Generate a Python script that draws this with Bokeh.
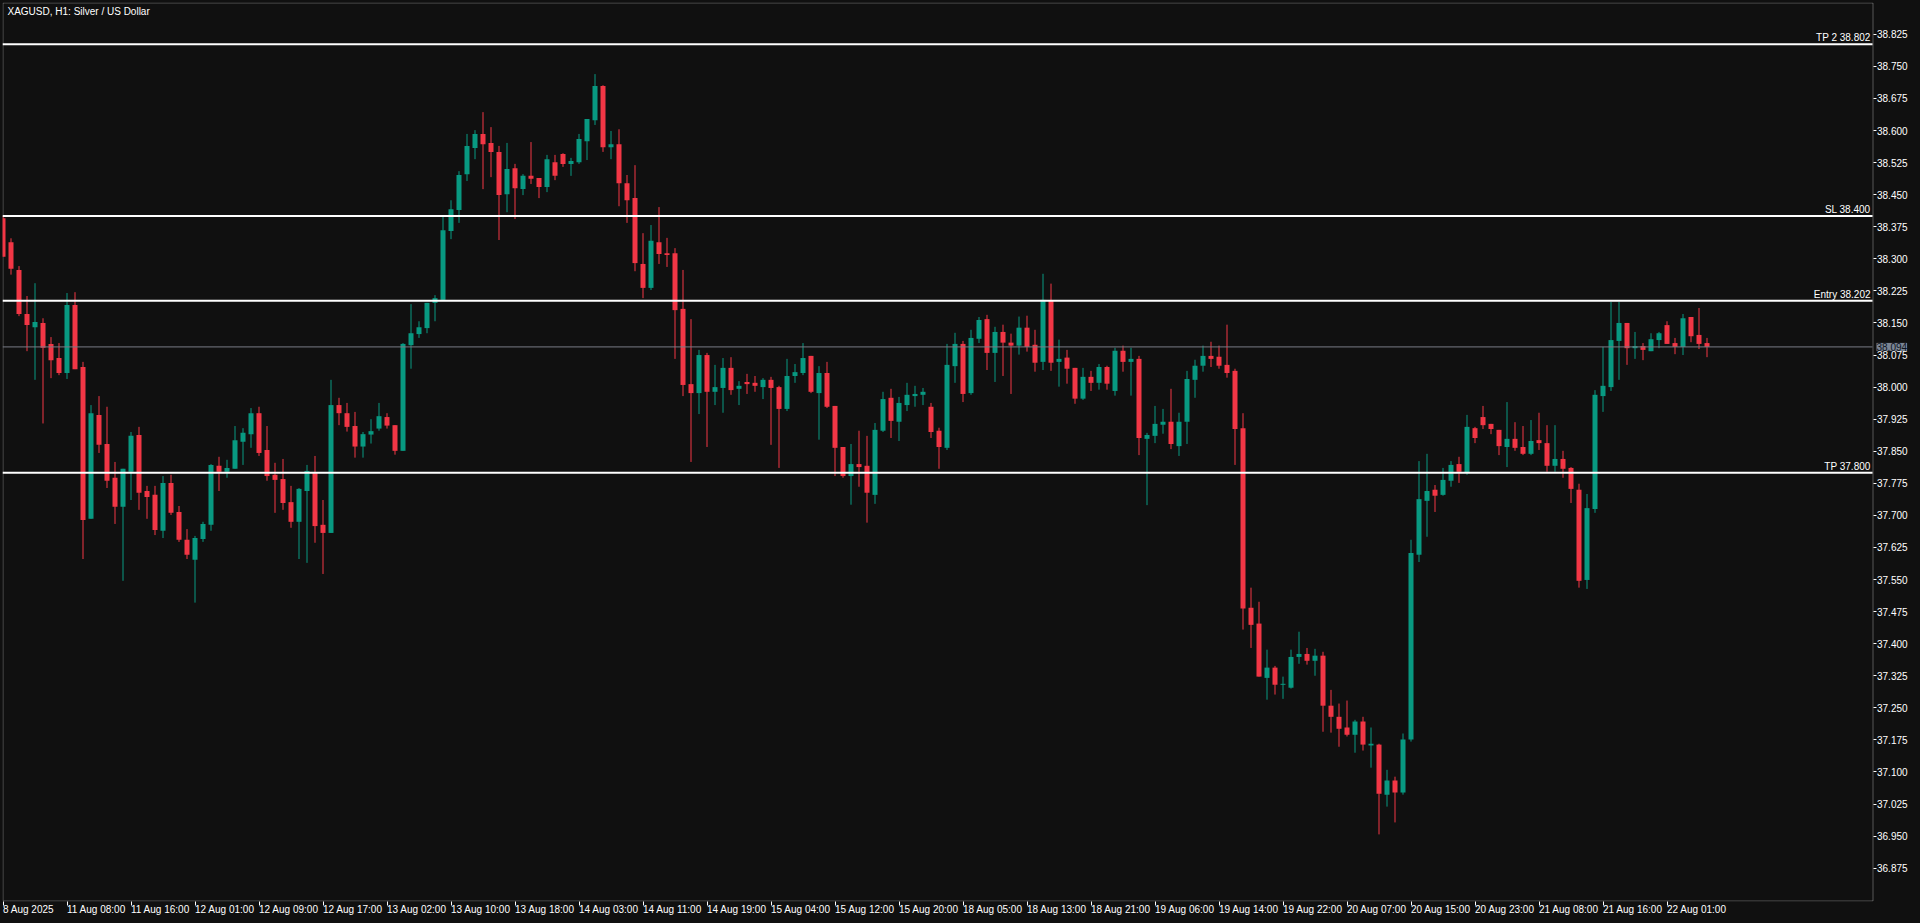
from bokeh.plotting import figure
from bokeh.models import (ColumnDataSource, Range1d, FixedTicker, Label, BoxAnnotation,
                          NumeralTickFormatter)
from bokeh.embed import file_html
from bokeh.resources import INLINE

# ---------------- data (H1 bars, 8 Aug 23:00 .. 22 Aug 06:00) ----------------
opens = [38.395, 38.339, 38.274, 38.171, 38.140, 38.150, 38.101, 38.068, 38.033, 38.192,
         38.047, 37.692, 37.935, 37.867, 37.788, 37.720, 37.802, 37.888, 37.757, 37.748,
         37.664, 37.776, 37.708, 37.643, 37.596, 37.645, 37.678, 37.816, 37.802, 37.809,
         37.872, 37.890, 37.939, 37.853, 37.795, 37.785, 37.731, 37.685, 37.757, 37.799,
         37.678, 37.659, 37.958, 37.939, 37.909, 37.861, 37.889, 37.903, 37.930, 37.911,
         37.851, 38.098, 38.124, 38.138, 38.197, 38.204, 38.365, 38.414, 38.498, 38.559,
         38.592, 38.571, 38.550, 38.451, 38.512, 38.463, 38.494, 38.489, 38.468, 38.526,
         38.545, 38.522, 38.526, 38.575, 38.624, 38.704, 38.561, 38.568, 38.477, 38.442,
         38.288, 38.232, 38.339, 38.313, 38.313, 38.183, 38.007, 37.986, 38.075, 37.989,
         37.998, 38.045, 37.996, 38.012, 38.010, 38.000, 38.017, 38.000, 37.949, 38.026,
         38.033, 38.073, 37.986, 38.033, 37.956, 37.860, 37.792, 37.820, 37.816, 37.748,
         37.898, 37.975, 37.919, 37.958, 37.979, 37.982, 37.954, 37.898, 37.858, 38.049,
         38.101, 37.986, 38.113, 38.159, 38.080, 38.129, 38.104, 38.097, 38.139, 38.099,
         38.059, 38.202, 38.059, 38.069, 38.045, 37.973, 38.024, 38.010, 38.047, 37.991,
         38.085, 38.059, 38.066, 37.879, 37.886, 37.912, 37.919, 37.862, 37.919, 38.017,
         38.050, 38.073, 38.071, 38.052, 38.038, 37.904, 37.484, 37.447, 37.320, 37.344,
         37.304, 37.297, 37.369, 37.376, 37.360, 37.372, 37.255, 37.229, 37.204, 37.187,
         37.218, 37.162, 37.164, 37.047, 37.080, 37.052, 37.176, 37.608, 37.734, 37.760,
         37.748, 37.781, 37.820, 37.799, 37.904, 37.930, 37.914, 37.900, 37.860, 37.879,
         37.860, 37.844, 37.876, 37.869, 37.816, 37.832, 37.811, 37.760, 37.549, 37.715,
         37.979, 38.000, 38.108, 38.150, 38.091, 38.096, 38.084, 38.110, 38.145, 38.103,
         38.094, 38.164, 38.122, 38.103]
highs = [38.400, 38.348, 38.283, 38.213, 38.243, 38.161, 38.117, 38.103, 38.220, 38.222,
         38.059, 37.958, 37.979, 37.954, 37.825, 37.809, 37.895, 37.907, 37.769, 37.769,
         37.792, 37.795, 37.722, 37.668, 37.652, 37.685, 37.820, 37.837, 37.830, 37.909,
         37.904, 37.951, 37.954, 37.909, 37.823, 37.832, 37.769, 37.764, 37.818, 37.839,
         37.736, 38.017, 37.975, 37.963, 37.942, 37.895, 37.925, 37.963, 37.939, 37.911,
         38.103, 38.194, 38.154, 38.197, 38.215, 38.398, 38.437, 38.505, 38.592, 38.601,
         38.643, 38.608, 38.564, 38.571, 38.522, 38.498, 38.573, 38.489, 38.543, 38.543,
         38.547, 38.536, 38.592, 38.627, 38.732, 38.706, 38.599, 38.603, 38.496, 38.519,
         38.360, 38.379, 38.421, 38.349, 38.325, 38.274, 38.159, 38.087, 38.080, 38.052,
         38.068, 38.070, 38.014, 38.031, 38.026, 38.021, 38.024, 38.003, 38.066, 38.054,
         38.103, 38.073, 38.049, 38.059, 37.956, 37.860, 37.867, 37.898, 37.886, 37.916,
         37.989, 37.996, 37.977, 38.010, 38.003, 37.998, 37.963, 37.905, 38.101, 38.127,
         38.108, 38.134, 38.164, 38.169, 38.141, 38.146, 38.125, 38.165, 38.167, 38.134,
         38.265, 38.242, 38.111, 38.087, 38.045, 38.045, 38.038, 38.054, 38.050, 38.092,
         38.097, 38.092, 38.073, 37.893, 37.956, 37.949, 37.996, 37.940, 38.038, 38.064,
         38.097, 38.106, 38.097, 38.146, 38.043, 37.939, 37.531, 37.498, 37.386, 37.348,
         37.323, 37.386, 37.428, 37.390, 37.388, 37.381, 37.292, 37.260, 37.267, 37.222,
         37.229, 37.204, 37.166, 37.105, 37.089, 37.190, 37.643, 37.827, 37.844, 37.771,
         37.811, 37.827, 37.837, 37.935, 37.907, 37.956, 37.914, 37.900, 37.965, 37.918,
         37.909, 37.923, 37.940, 37.911, 37.911, 37.851, 37.813, 37.774, 37.750, 37.993,
         38.094, 38.199, 38.199, 38.150, 38.129, 38.103, 38.126, 38.129, 38.154, 38.115,
         38.171, 38.164, 38.185, 38.115]
lows = [38.305, 38.263, 38.166, 38.084, 38.017, 37.915, 38.021, 38.028, 38.019, 38.042,
        37.598, 37.692, 37.846, 37.764, 37.680, 37.547, 37.736, 37.713, 37.692, 37.654,
        37.647, 37.701, 37.638, 37.598, 37.496, 37.638, 37.664, 37.757, 37.788, 37.809,
        37.818, 37.858, 37.839, 37.781, 37.706, 37.713, 37.671, 37.598, 37.589, 37.636,
        37.563, 37.659, 37.911, 37.896, 37.835, 37.835, 37.868, 37.898, 37.903, 37.842,
        37.851, 38.043, 38.115, 38.126, 38.154, 38.204, 38.346, 38.384, 38.482, 38.533,
        38.463, 38.491, 38.344, 38.409, 38.393, 38.449, 38.475, 38.442, 38.456, 38.484,
        38.515, 38.494, 38.522, 38.531, 38.613, 38.550, 38.533, 38.423, 38.384, 38.271,
        38.208, 38.227, 38.288, 38.281, 38.066, 37.979, 37.825, 37.937, 37.860, 37.958,
        37.940, 37.982, 37.958, 37.984, 37.989, 37.972, 37.865, 37.811, 37.944, 38.010,
        38.028, 37.986, 37.877, 37.951, 37.792, 37.788, 37.725, 37.767, 37.683, 37.727,
        37.895, 37.881, 37.874, 37.944, 37.954, 37.958, 37.881, 37.809, 37.853, 38.010,
        37.965, 37.982, 38.103, 38.040, 38.012, 38.026, 37.984, 38.076, 38.083, 38.036,
        38.040, 38.038, 38.001, 38.008, 37.961, 37.970, 37.991, 37.994, 37.994, 37.980,
        38.036, 37.980, 37.841, 37.724, 37.869, 37.891, 37.855, 37.839, 37.867, 37.975,
        38.036, 38.047, 38.043, 38.022, 37.818, 37.433, 37.390, 37.323, 37.269, 37.281,
        37.271, 37.295, 37.353, 37.351, 37.325, 37.194, 37.192, 37.159, 37.183, 37.145,
        37.150, 37.110, 36.954, 37.019, 36.982, 37.047, 37.171, 37.591, 37.650, 37.708,
        37.746, 37.767, 37.776, 37.795, 37.869, 37.902, 37.890, 37.841, 37.813, 37.851,
        37.841, 37.841, 37.853, 37.802, 37.802, 37.788, 37.729, 37.531, 37.528, 37.706,
        37.942, 37.991, 38.017, 38.052, 38.066, 38.063, 38.084, 38.091, 38.101, 38.077,
        38.075, 38.105, 38.089, 38.070]
closes = [38.305, 38.277, 38.171, 38.145, 38.152, 38.092, 38.063, 38.033, 38.192, 38.042,
          37.689, 37.939, 37.865, 37.781, 37.720, 37.809, 37.886, 37.753, 37.743, 37.666,
          37.776, 37.706, 37.643, 37.608, 37.647, 37.680, 37.818, 37.802, 37.811, 37.876,
          37.893, 37.939, 37.846, 37.792, 37.783, 37.729, 37.685, 37.762, 37.804, 37.675,
          37.659, 37.958, 37.939, 37.907, 37.861, 37.890, 37.897, 37.932, 37.910, 37.851,
          38.101, 38.126, 38.140, 38.197, 38.208, 38.367, 38.416, 38.496, 38.564, 38.592,
          38.568, 38.550, 38.449, 38.510, 38.465, 38.494, 38.487, 38.468, 38.533, 38.494,
          38.522, 38.529, 38.580, 38.627, 38.704, 38.561, 38.568, 38.477, 38.437, 38.290,
          38.232, 38.342, 38.311, 38.309, 38.180, 38.005, 37.986, 38.075, 37.989, 38.000,
          38.045, 37.993, 38.003, 38.007, 38.003, 38.017, 37.998, 37.949, 38.026, 38.035,
          38.068, 37.989, 38.033, 37.954, 37.858, 37.792, 37.820, 37.813, 37.753, 37.900,
          37.972, 37.921, 37.963, 37.982, 37.984, 37.989, 37.895, 37.860, 38.052, 38.101,
          37.984, 38.115, 38.157, 38.080, 38.129, 38.104, 38.097, 38.139, 38.094, 38.057,
          38.204, 38.057, 38.066, 38.043, 37.973, 38.024, 38.010, 38.047, 38.008, 38.085,
          38.059, 38.066, 37.881, 37.888, 37.914, 37.919, 37.867, 37.919, 38.019, 38.050,
          38.073, 38.066, 38.050, 38.033, 37.902, 37.482, 37.444, 37.323, 37.344, 37.304,
          37.306, 37.369, 37.376, 37.360, 37.372, 37.255, 37.229, 37.201, 37.187, 37.218,
          37.164, 37.166, 37.049, 37.080, 37.052, 37.176, 37.612, 37.738, 37.757, 37.746,
          37.783, 37.818, 37.802, 37.907, 37.881, 37.911, 37.902, 37.862, 37.879, 37.858,
          37.844, 37.874, 37.869, 37.816, 37.832, 37.809, 37.762, 37.547, 37.717, 37.982,
          38.003, 38.110, 38.150, 38.091, 38.096, 38.087, 38.112, 38.126, 38.101, 38.094,
          38.161, 38.119, 38.101, 38.094]

x_tick_bars = [0, 8, 16, 24, 32, 40, 48, 56, 64, 72, 80, 88, 96, 104, 112, 120, 128,
               136, 144, 152, 160, 168, 176, 184, 192, 200, 208]
x_tick_labels = ["8 Aug 2025", "11 Aug 08:00", "11 Aug 16:00", "12 Aug 01:00", "12 Aug 09:00",
                 "12 Aug 17:00", "13 Aug 02:00", "13 Aug 10:00", "13 Aug 18:00",
                 "14 Aug 03:00", "14 Aug 11:00", "14 Aug 19:00", "15 Aug 04:00",
                 "15 Aug 12:00", "15 Aug 20:00", "18 Aug 05:00", "18 Aug 13:00",
                 "18 Aug 21:00", "19 Aug 06:00", "19 Aug 14:00", "19 Aug 22:00",
                 "20 Aug 07:00", "20 Aug 15:00", "20 Aug 23:00", "21 Aug 08:00",
                 "21 Aug 16:00", "22 Aug 01:00"]
y_ticks = [36.875, 36.950, 37.025, 37.100, 37.175, 37.250, 37.325, 37.400, 37.475,
           37.550, 37.625, 37.700, 37.775, 37.850, 37.925, 38.000, 38.075, 38.150,
           38.225, 38.300, 38.375, 38.450, 38.525, 38.600, 38.675, 38.750, 38.825]
level_names = ["TP 2", "SL", "Entry", "TP"]
level_prices = [38.802, 38.400, 38.202, 37.800]
last_price = 38.094
chart_title = "XAGUSD, H1:  Silver / US Dollar"

# ---------------- styling ----------------
BG = "#101010"
UP = "#089981"
DOWN = "#F23645"
FONT = "Liberation Sans"
FS = "10px"
BAR_PX = 8.0            # horizontal pixels per bar
Y_LO, Y_HI = 36.7971, 38.8994
PLOT_H = 900.0          # frame height in px

n = len(opens)
xs = list(range(n))
one_px = (Y_HI - Y_LO) / PLOT_H
tops, bottoms, colors = [], [], []
for o, c in zip(opens, closes):
    t, b = max(o, c), min(o, c)
    if t - b < one_px:
        mid = (t + b) / 2
        t, b = mid + one_px / 2, mid - one_px / 2
    tops.append(t)
    bottoms.append(b)
    colors.append(UP if c >= o else DOWN)

src = ColumnDataSource(dict(x=xs, high=highs, low=lows, top=tops, bottom=bottoms, color=colors))

x_start = -0.0625
x_border = x_start + 1870 / BAR_PX      # chart's right border (price scale starts here)
x_end = x_start + 1918 / BAR_PX         # frame extends under the price scale

p = figure(width=1920, height=923,
           x_range=Range1d(x_start, x_end), y_range=Range1d(Y_LO, Y_HI),
           y_axis_location="right", output_backend="svg", toolbar_location=None,
           min_border_left=2, min_border_top=2, min_border_right=0, min_border_bottom=21,
           background_fill_color=BG, border_fill_color=BG, outline_line_color=None)
p.grid.visible = False

# chart border
p.add_layout(BoxAnnotation(left=x_start + 0.5 / BAR_PX, right=x_border + 0.5 / BAR_PX,
                           top=Y_HI - 0.5 * one_px, bottom=Y_LO + 0.5 * one_px,
                           fill_alpha=0, line_color="white", line_width=1, level="underlay"))

p.segment(x0="x", y0="low", x1="x", y1="high", line_color="color", line_width=1, source=src)
p.vbar(x="x", width=0.625, top="top", bottom="bottom", fill_color="color", line_color=None, source=src)

lvl_src = ColumnDataSource(dict(x0=[x_start] * len(level_prices), x1=[x_border] * len(level_prices),
                                y=level_prices))
p.segment(x0="x0", y0="y", x1="x1", y1="y", line_color="white", line_width=2, source=lvl_src)
for name, lv in zip(level_names, level_prices):
    p.add_layout(Label(x=x_border, y=lv, text=f"{name} {lv:.3f}", text_align="right",
                       text_baseline="bottom", x_offset=-2, y_offset=1, text_color="white",
                       text_font=FONT, text_font_size=FS))

last_src = ColumnDataSource(dict(x0=[x_start], x1=[x_border], y=[last_price]))
p.segment(x0="x0", y0="y", x1="x1", y1="y", line_color="#787B86", line_width=1, source=last_src)
p.add_layout(Label(x=x_border, y=last_price, text=f"{last_price:.3f}", text_align="left",
                   text_baseline="middle", x_offset=4, text_color="#0c1320",
                   background_fill_color="#7B8594", text_font=FONT, text_font_size=FS))

p.add_layout(Label(x=x_start, y=Y_HI, text=chart_title, text_align="left",
                   text_baseline="top", x_offset=5, y_offset=-3, text_color="white",
                   text_font=FONT, text_font_size=FS))

# x axis
p.xaxis.ticker = FixedTicker(ticks=x_tick_bars)
p.xaxis.major_label_overrides = {b: lab for b, lab in zip(x_tick_bars, x_tick_labels)}
p.xaxis.axis_line_color = None
p.xaxis.major_tick_line_color = "white"
p.xaxis.major_tick_out = 4
p.xaxis.major_tick_in = 0
p.xaxis.minor_tick_line_color = None
p.xaxis.major_label_text_color = "white"
p.xaxis.major_label_text_font = FONT
p.xaxis.major_label_text_font_size = FS
p.xaxis.major_label_orientation = -1e-6
p.xaxis.major_label_standoff = 4

# y axis (price scale drawn at the chart's right border)
p.yaxis.fixed_location = x_border + 0.5 / BAR_PX
p.yaxis.ticker = FixedTicker(ticks=y_ticks)
p.yaxis.formatter = NumeralTickFormatter(format="0.000")
p.yaxis.axis_line_color = None
p.yaxis.major_tick_line_color = "white"
p.yaxis.major_tick_out = 3
p.yaxis.major_tick_in = 0
p.yaxis.minor_tick_line_color = None
p.yaxis.major_label_text_color = "white"
p.yaxis.major_label_text_font = FONT
p.yaxis.major_label_text_font_size = FS
p.yaxis.major_label_standoff = 1

html = file_html(p, INLINE, title="XAGUSD, H1")
html = html.replace("</head>", "<style>html, body { background-color: #101010; }</style>\n</head>", 1)
open("out.html", "w").write(html)
